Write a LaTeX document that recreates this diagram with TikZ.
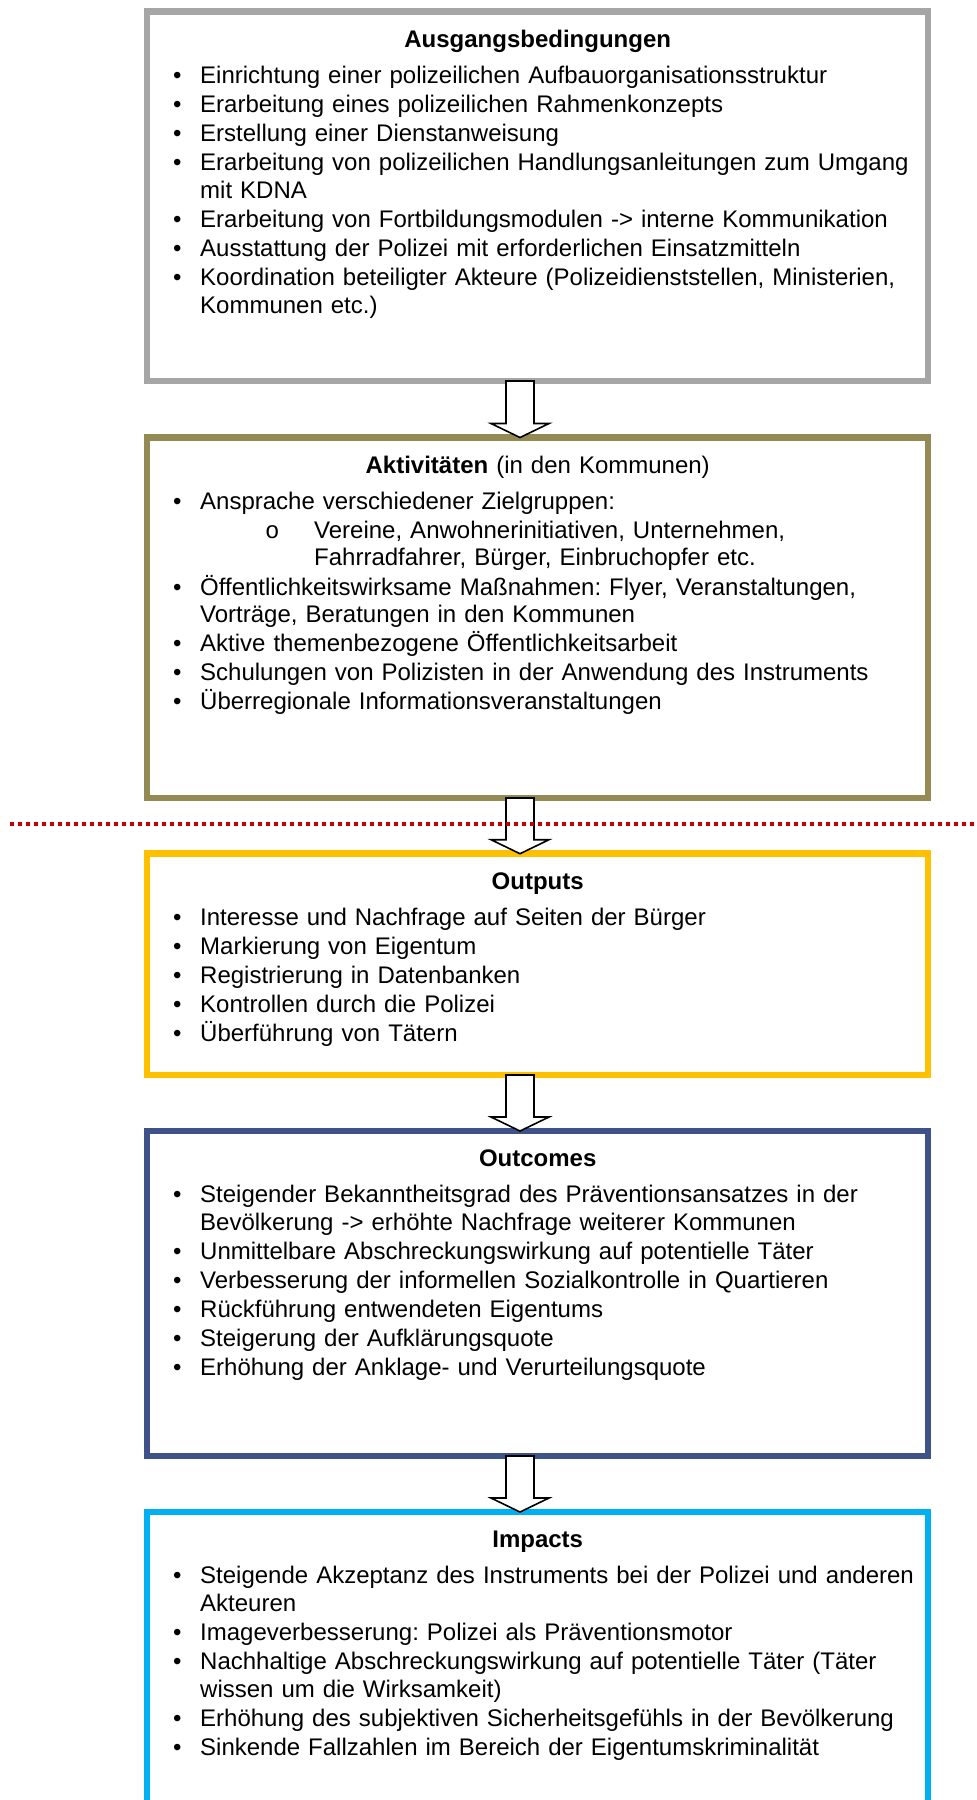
\documentclass[tikz,border=0pt]{standalone}
\usepackage{fontspec}
\setmainfont{Liberation Sans}
\setmonofont{Liberation Mono}
\usetikzlibrary{calc}

\definecolor{boxgray}{HTML}{A6A6A6}
\definecolor{boxolive}{HTML}{948A54}
\definecolor{boxyellow}{HTML}{FFC000}
\definecolor{boxnavy}{HTML}{3F5189}
\definecolor{boxcyan}{HTML}{00B0F0}
\definecolor{cutred}{HTML}{C00000}

\begin{document}
\begin{tikzpicture}[x=1pt, y=-1pt,
	frame/.style={draw, line width=6.5pt, minimum width=781pt, inner sep=0pt, outer sep=0pt},
	content/.style={anchor=north west, inner sep=0pt, text width=775pt, align=left,
		font=\fontsize{24}{27.6}\selectfont},
	blockarr/.style={draw=black, fill=white, line width=1.6pt, line join=miter},
	cutline/.style={draw=cutred, line width=4pt, dash pattern=on 4pt off 4pt}]

%\blockarrow{start}{tip}
\newcommand*{\blockarrow}[2]{%
	\draw [blockarr] ($(#1)+(-14,0)$) -- ($(#2)+(-14,-14)$) -- ($(#2)+(-29,-14)$) -- (#2)
		-- ($(#2)+(29,-14)$) -- ($(#2)+(14,-14)$) -- ($(#1)+(14,0)$) -- cycle;
}
\newcommand*{\boxsetup}{\setlength{\parindent}{0pt}\setlength{\parskip}{1.5pt}\lineskiplimit=-20pt\frenchspacing}
\newcommand*{\boxtitle}[1]{{\centering\rule{0pt}{24pt}#1\par}\vspace{6.9pt}}
\newcommand*{\itm}[1]{\par\hangindent=50pt\hangafter=1\noindent\makebox[50pt][l]{\hspace{22.8pt}\textbullet}#1}
\newcommand*{\subitm}[1]{\par\hangindent=164pt\hangafter=1\noindent\makebox[164pt][l]{\hspace{115pt}\texttt{o}}#1}

\def\arrx{-17.5}

\clip (0,0) rectangle (977,1800);

% boxes
\node [frame, draw=boxgray, minimum height=369.5pt] (ausgang) at (537.5,196.25) {};
\node [frame, draw=boxolive, minimum height=360.5pt] (aktiv) at (537.5,617.75) {};
\node [frame, draw=boxyellow, minimum height=221.3pt] (outputs) at (537.5,964.35) {};
\node [frame, draw=boxnavy, minimum height=325pt] (outcomes) at (537.5,1293.5) {};
\node [frame, draw=boxcyan, minimum height=338pt] (impacts) at (537.5,1681) {};

% texts
\node [content] (ausgangtext) at (150,23) {\boxsetup
	\boxtitle{\textbf{Ausgangsbedingungen}}
	\itm{Einrichtung einer polizeilichen Aufbauorganisationsstruktur}
	\itm{Erarbeitung eines polizeilichen Rahmenkonzepts}
	\itm{Erstellung einer Dienstanweisung}
	\itm{Erarbeitung von polizeilichen Handlungsanleitungen zum Umgang\newline mit KDNA}
	\itm{Erarbeitung von Fortbildungsmodulen -> interne Kommunikation}
	\itm{Ausstattung der Polizei mit erforderlichen Einsatzmitteln}
	\itm{Koordination beteiligter Akteure (Polizeidienststellen, Ministerien,\newline Kommunen etc.)}\par};

\node [content] (aktivtext) at (150,449) {\boxsetup
	\boxtitle{\textbf{Aktivitäten} (in den Kommunen)}
	\itm{Ansprache verschiedener Zielgruppen:}
	\subitm{Vereine, Anwohnerinitiativen, Unternehmen,\newline Fahrradfahrer, Bürger, Einbruchopfer etc.}
	\itm{Öffentlichkeitswirksame Maßnahmen: Flyer, Veranstaltungen,\newline Vorträge, Beratungen in den Kommunen}
	\itm{Aktive themenbezogene Öffentlichkeitsarbeit}
	\itm{Schulungen von Polizisten in der Anwendung des Instruments}
	\itm{Überregionale Informationsveranstaltungen}\par};

\node [content] (outputstext) at (150,865.2) {\boxsetup
	\boxtitle{\textbf{Outputs}}
	\itm{Interesse und Nachfrage auf Seiten der Bürger}
	\itm{Markierung von Eigentum}
	\itm{Registrierung in Datenbanken}
	\itm{Kontrollen durch die Polizei}
	\itm{Überführung von Tätern}\par};

\node [content] (outcomestext) at (150,1142.5) {\boxsetup
	\boxtitle{\textbf{Outcomes}}
	\itm{Steigender Bekanntheitsgrad des Präventionsansatzes in der\newline Bevölkerung -> erhöhte Nachfrage weiterer Kommunen}
	\itm{Unmittelbare Abschreckungswirkung auf potentielle Täter}
	\itm{Verbesserung der informellen Sozialkontrolle in Quartieren}
	\itm{Rückführung entwendeten Eigentums}
	\itm{Steigerung der Aufklärungsquote}
	\itm{Erhöhung der Anklage- und Verurteilungsquote}\par};

\node [content] (impactstext) at (150,1523.5) {\boxsetup
	\boxtitle{\textbf{Impacts}}
	\itm{Steigende Akzeptanz des Instruments bei der Polizei und anderen\newline Akteuren}
	\itm{Imageverbesserung: Polizei als Präventionsmotor}
	\itm{Nachhaltige Abschreckungswirkung auf potentielle Täter (Täter\newline wissen um die Wirksamkeit)}
	\itm{Erhöhung des subjektiven Sicherheitsgefühls in der Bevölkerung}
	\itm{Sinkende Fallzahlen im Bereich der Eigentumskriminalität}\par};

% arrows
\blockarrow{[xshift=\arrx pt]ausgang.south}{[xshift=\arrx pt]aktiv.north}
\blockarrow{[xshift=\arrx pt]aktiv.south}{[xshift=\arrx pt]outputs.north}
\blockarrow{[xshift=\arrx pt]outputs.south}{[xshift=\arrx pt]outcomes.north}
\blockarrow{[xshift=\arrx pt]outcomes.south}{[xshift=\arrx pt]impacts.north}

% cut line
\coordinate (cutl) at (10,824);
\coordinate (cutr) at (977,824);
\draw [cutline] (cutl) -- (cutr);

\end{tikzpicture}
\end{document}
